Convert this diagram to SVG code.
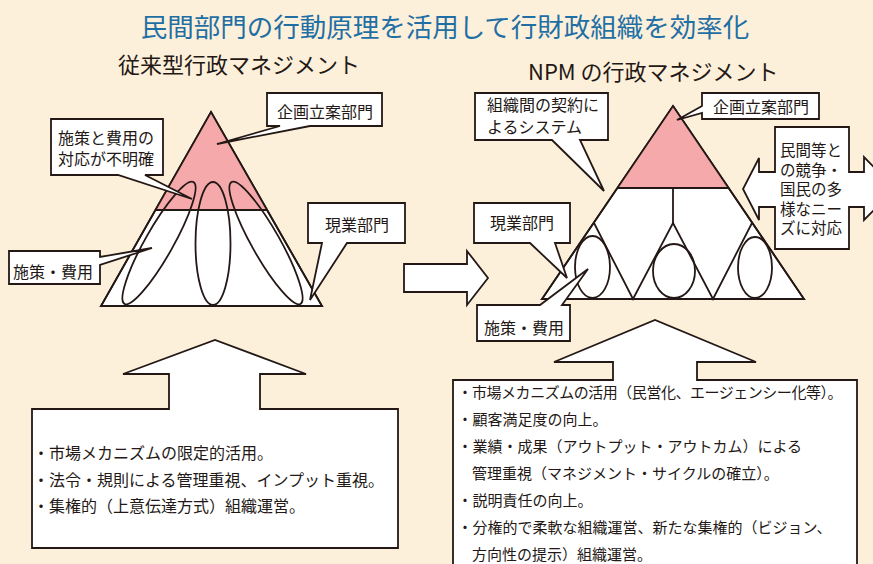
<svg xmlns="http://www.w3.org/2000/svg" width="873" height="564" viewBox="0 0 873 564">
<style>
.ln{stroke:#231815;stroke-width:1.8;stroke-linejoin:miter;fill:#fff}
.nf{stroke:#231815;stroke-width:1.8;fill:none}
.pk{fill:#f5a9ab;stroke:none}
text{font-family:"Noto Sans CJK JP","Noto Sans",sans-serif;fill:#231815}
.t16{font-size:16px}
.t155{font-size:15.5px}
.t15{font-size:15px}
.title{font-size:26.5px;fill:#1f6fa5}
.sub{font-size:22px}
</style>
<rect width="873" height="564" fill="#fdf0da"/>
<text class="title" x="445" y="37" text-anchor="middle">民間部門の行動原理を活用して行財政組織を効率化</text>
<text class="sub" x="118" y="73">従来型行政マネジメント</text>
<text class="sub" x="528" y="80">NPM の行政マネジメント</text>

<g id="pyramid-old">
<polygon class="ln" points="211,112 322,306 101,306"/>
<polygon class="pk" points="211,112 267,210 155,210"/>
<line class="nf" x1="155" y1="210" x2="267" y2="210"/>
<polygon class="nf" points="211,112 322,306 101,306"/>
<ellipse class="nf" cx="159" cy="243" rx="14" ry="70" transform="rotate(29.5 159 243)"/>
<ellipse class="nf" cx="213" cy="243.5" rx="17.5" ry="61.5"/>
<ellipse class="nf" cx="266" cy="243" rx="14" ry="70" transform="rotate(-29.5 266 243)"/>
</g>

<g id="pyramid-npm">
<polygon class="ln" points="673,106 804,299 542,299"/>
<polygon class="pk" points="673,106 729,188 617,188"/>
<line class="nf" x1="617" y1="188" x2="729" y2="188"/>
<line class="nf" x1="673" y1="188" x2="673" y2="223"/>
<polyline class="nf" points="594,223 633,299 673,223 713,299 752,223"/>
<polygon class="nf" points="673,106 804,299 542,299"/>
<ellipse class="nf" cx="592.5" cy="267" rx="17.5" ry="31"/>
<ellipse class="nf" cx="674" cy="271" rx="21" ry="27"/>
<ellipse class="nf" cx="755" cy="267.5" rx="17" ry="30.5"/>
</g>

<g id="connectors">
<polygon class="ln" points="404,264 467,264 467,251 488,278 467,305 467,292 404,292"/>
</g>

<g id="callout-old-kikaku">
<path class="ln" d="M267,93 H382 V126 H310 L217,144 L280,126 H267 Z"/>
<text class="t16" x="277" y="118">企画立案部門</text>
</g>
<g id="callout-old-unclear">
<path class="ln" d="M51,119 H163 V175 H145 L192,199 L118,175 H51 Z"/>
<text class="t16" x="58" y="143.5">施策と費用の</text>
<text class="t16" x="58" y="164.5">対応が不明確</text>
</g>
<g id="callout-old-genba">
<path class="ln" d="M308,203 H405 V243 H347 L310,300 L322,243 H308 Z"/>
<text class="t16" x="325" y="231">現業部門</text>
</g>
<g id="callout-old-sesaku">
<path class="ln" d="M9,251 H100 V257 L152,248 L100,265 V284 H9 Z"/>
<text class="t16" x="13" y="278">施策・費用</text>
</g>

<g id="callout-npm-kikaku">
<path class="ln" d="M702,93 H819 V119 H702 V113 L677,120 L702,106 Z"/>
<text class="t16" x="713" y="113">企画立案部門</text>
</g>
<g id="callout-npm-contract">
<path class="ln" d="M475,93 H608 V140 H580 L604,191 L552,140 H475 Z"/>
<text class="t16" x="487" y="111">組織間の契約に</text>
<text class="t16" x="487" y="133">よるシステム</text>
</g>
<g id="callout-npm-genba">
<path class="ln" d="M474,203 H570 V243 H555 L567,278 L530,243 H474 Z"/>
<text class="t16" x="490" y="229">現業部門</text>
</g>
<g id="callout-npm-sesaku">
<path class="ln" d="M477,305 H540 L588,269 L562,305 H570 V341 H477 Z"/>
<text class="t16" x="484" y="334">施策・費用</text>
</g>
<g id="competition">
<polygon class="ln" points="775,127 849,127 849,172 864,172 864,157 895,189 864,220 864,207 849,207 849,249 775,249 775,207 759,207 759,220 743,189 759,158 759,172 775,172"/>
<text class="t155" x="780" y="156">民間等と</text>
<text class="t155" x="780" y="175.5">の競争・</text>
<text class="t155" x="780" y="195">国民の多</text>
<text class="t155" x="780" y="214.5">様なニー</text>
<text class="t155" x="780" y="234">ズに対応</text>
</g>

<g id="box-old">
<polygon class="ln" points="32,409 169,409 169,374 123,374 215,340 306,374 260,374 260,409 398,409 398,548 32,548"/>
<text class="t16" x="33" y="459">・市場メカニズムの限定的活用。</text>
<text class="t16" x="33" y="486">・法令・規則による管理重視、インプット重視。</text>
<text class="t16" x="33" y="512">・集権的（上意伝達方式）組織運営。</text>
</g>

<g id="box-npm">
<polygon class="ln" points="453,380 613,380 613,362 554,362 655,320 756,362 697,362 697,380 857,380 857,570 453,570"/>
<text class="t15" x="457.5" y="398" textLength="385" lengthAdjust="spacing">・市場メカニズムの活用（民営化、エージェンシー化等）。</text>
<text class="t15" x="457.5" y="425">・顧客満足度の向上。</text>
<text class="t15" x="457.5" y="452">・業績・成果（アウトプット・アウトカム）による</text>
<text class="t15" x="472" y="479">管理重視（マネジメント・サイクルの確立）。</text>
<text class="t15" x="457.5" y="506">・説明責任の向上。</text>
<text class="t15" x="457.5" y="533">・分権的で柔軟な組織運営、新たな集権的（ビジョン、</text>
<text class="t15" x="472" y="560">方向性の提示）組織運営。</text>
</g>
</svg>
